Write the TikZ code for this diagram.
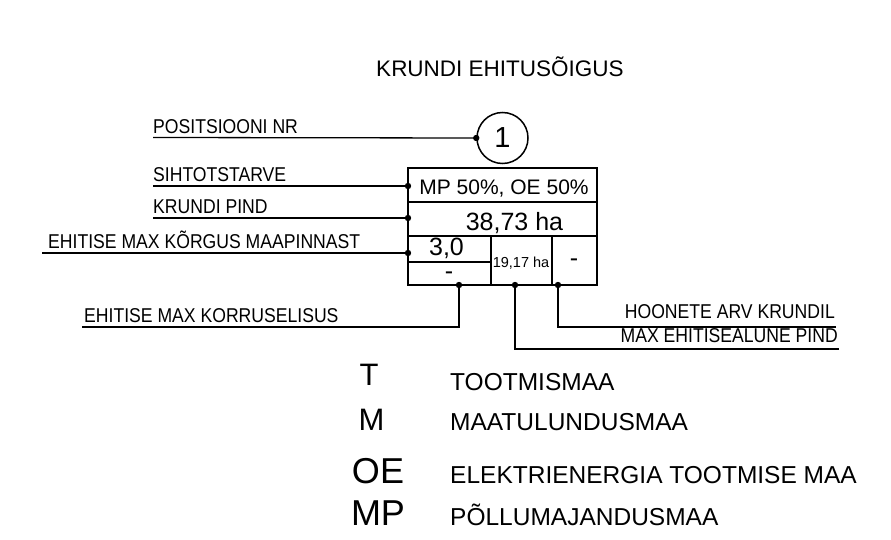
\documentclass[tikz,border=0pt]{standalone}
\usepackage{fontspec}
\setmainfont{Liberation Sans}
\newfontfamily\cadfont[FakeStretch=0.88]{Liberation Sans}
\newcommand{\fs}[1]{\fontsize{#1}{#1}\selectfont}

\begin{document}
\begin{tikzpicture}[x=1pt, y=-1pt,
  label text/.style={anchor=base west, inner sep=0pt, font=\cadfont\fs{20}},
  label right/.style={anchor=base east, inner sep=0pt, font=\cadfont\fs{20}},
  cell text/.style={anchor=base, inner sep=0pt},
  leader/.style={draw, line width=1.3pt},
  frame/.style={draw, line width=1.6pt},
  legend key/.style={anchor=base, inner sep=0pt},
  legend text/.style={anchor=base west, inner sep=0pt, font=\fs{24.5}}
]
\useasboundingbox (0,0) rectangle (891,540);
% Define the title
\node[cell text, font=\fs{22.5}] (title) at (500,77) {KRUNDI EHITUSÕIGUS};
% Define the position circle
\node[draw, circle, line width=1.5pt, minimum size=51pt, inner sep=0pt, font=\fs{29}] (posnr) at (502.5,138) {1};
% Define the table
\draw[frame] (408,168) rectangle (597,285);
\draw[frame] (408,202) -- (597,202);
\draw[frame] (408,236) -- (597,236);
\draw[frame] (408,262) -- (491,262);
\draw[frame] (491,236) -- (491,285);
\draw[frame] (552,236) -- (552,285);
\node[cell text, font=\fs{21}] (use) at (504,195) {MP 50\%, OE 50\%};
\node[cell text, font=\fs{25}] (area) at (514.5,230) {38,73 ha};
\node[cell text, font=\fs{25}] (height) at (446.5,255) {3,0};
\node[cell text, font=\fs{25}] (floors) at (449,279) {-};
\node[cell text, font=\fs{14.5}] (footprint) at (521,267) {19,17 ha};
\node[cell text, font=\fs{25}] (count) at (574,266) {-};
% Define the dots
\coordinate (d-pos) at (posnr.west);
\coordinate (d-use) at (408,186);
\coordinate (d-area) at (408,218);
\coordinate (d-height) at (408,253);
\coordinate (d-floors) at (459,285);
\coordinate (d-footprint) at (515,285);
\coordinate (d-count) at (558,285);
\foreach \d in {d-pos,d-use,d-area,d-height,d-floors,d-footprint,d-count}
  \fill (\d) circle (3.2pt);
% Define the labels
\node[label text] (l-pos) at (153,134) {POSITSIOONI NR};
\node[label text] (l-use) at (153,182) {SIHTOTSTARVE};
\node[label text] (l-area) at (153,214) {KRUNDI PIND};
\node[label text] (l-height) at (48,248) {EHITISE MAX KÕRGUS MAAPINNAST};
\node[label text] (l-floors) at (84,322) {EHITISE MAX KORRUSELISUS};
\node[label right] (l-count) at (835,318) {HOONETE ARV KRUNDIL};
\node[label right] (l-footprint) at (838,342) {MAX EHITISEALUNE PIND};
\coordinate (s-pos) at (153,137.5);
\coordinate (s-use) at (153,186);
\coordinate (s-area) at (153,218);
\coordinate (s-height) at (42,253);
\coordinate (s-floors) at (82,327);
\coordinate (s-count) at (836,327);
\coordinate (s-footprint) at (839,349);
% Define the leaders
\path[leader] (s-pos) -- (d-pos);
\path[leader] (s-use) -- (d-use);
\path[leader] (s-area) -- (d-area);
\path[leader] (s-height) -- (d-height);
\path[leader] (s-floors) -| (d-floors);
\path[leader] (s-count) -| (d-count);
\path[leader] (s-footprint) -| (d-footprint);
% Define the legend
\node[legend key, font=\fs{31}] (key-t) at (369,385) {T};
\node[legend key, font=\fs{31}] (key-m) at (371.5,430) {M};
\node[legend key, font=\fs{36}] (key-oe) at (378,483) {OE};
\node[legend key, font=\fs{36}] (key-mp) at (378,525) {MP};
\node[legend text] (txt-t) at (450,390) {TOOTMISMAA};
\node[legend text] (txt-m) at (450,430) {MAATULUNDUSMAA};
\node[legend text] (txt-oe) at (450,483) {ELEKTRIENERGIA TOOTMISE MAA};
\node[legend text] (txt-mp) at (450,525) {PÕLLUMAJANDUSMAA};
\end{tikzpicture}
\end{document}
